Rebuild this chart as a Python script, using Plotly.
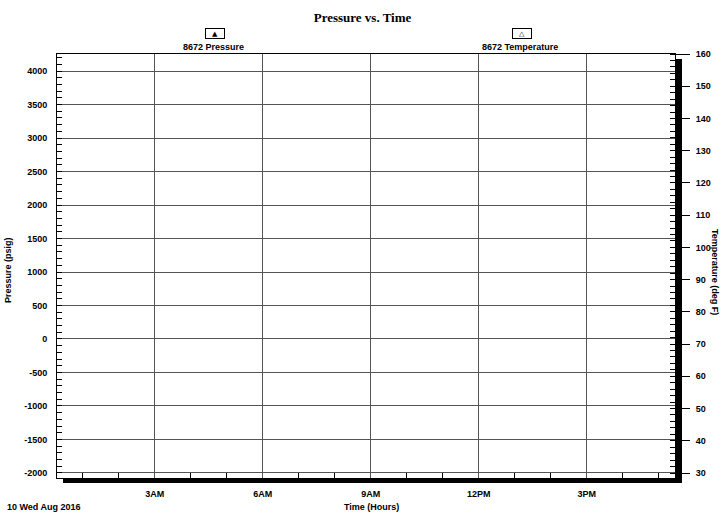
import plotly.graph_objects as go

# ---- data (the reference shows no plotted samples) ----
time_stamps = []          # sample times
pressure_psig = []        # 8672 Pressure
temperature_degF = []     # 8672 Temperature
series_names = ["8672 Pressure", "8672 Temperature"]
time_start = "2016-08-10 00:17"
time_end = "2016-08-10 17:27"
pressure_range = [-2075, 4254]
temperature_range = [28.45, 160]
pressure_ticks = [-2000, -1500, -1000, -500, 0, 500, 1000, 1500, 2000, 2500, 3000, 3500, 4000]
pressure_tick_labels = ["-2000", "-1500", "-1000", "-500", "0", "500", "1000", "1500",
                        "2000", "2500", "3000", "3500", "4000"]

FONT = "Liberation Sans Narrow, Liberation Sans, Arial"

fig = go.Figure()
fig.add_trace(go.Scatter(x=time_stamps, y=pressure_psig, name=series_names[0],
                         mode="lines+markers", line=dict(color="black"),
                         marker=dict(symbol="triangle-up", color="black"), yaxis="y"))
fig.add_trace(go.Scatter(x=time_stamps, y=temperature_degF, name=series_names[1],
                         mode="lines+markers", line=dict(color="black"),
                         marker=dict(symbol="triangle-up-open", color="black"), yaxis="y2"))

tickfont = dict(family=FONT, size=9, color="black", weight="bold")

fig.update_layout(
    width=725, height=514,
    margin=dict(l=57, r=50, t=54, b=36),
    paper_bgcolor="white", plot_bgcolor="white",
    showlegend=False,
    title=dict(text="Pressure vs. Time", x=0.5, xanchor="center", y=1 - 17 / 514, yanchor="middle",
               font=dict(family="Liberation Serif", size=13, color="black", weight="bold")),
    xaxis=dict(type="date", range=[time_start, time_end],
               tick0="2016-08-10 00:00", dtick=3 * 3600 * 1000, tickformat="%-I%p",
               ticks="", showgrid=True, gridcolor="#555555", gridwidth=1,
               showline=True, linecolor="black", linewidth=1, mirror=True,
               tickfont=tickfont, ticklabelstandoff=7,
               minor=dict(dtick=3600 * 1000, ticks="inside", ticklen=5, tickcolor="black",
                          showgrid=False),
               zeroline=False),
    yaxis=dict(range=pressure_range, tickmode="array", tickvals=pressure_ticks,
               ticktext=pressure_tick_labels, ticks="inside", ticklen=5,
               tickcolor="black", showgrid=True, gridcolor="#555555", gridwidth=1,
               showline=True, linecolor="black", linewidth=1, zeroline=False,
               tickfont=tickfont, ticklabelstandoff=7,
               minor=dict(dtick=100, ticks="inside", ticklen=5, tickcolor="black", showgrid=False)),
    yaxis2=dict(range=temperature_range, dtick=10, tick0=0, overlaying="y", side="right",
                ticks="outside", ticklen=14, tickcolor="black", showgrid=False,
                showline=True, linecolor="black", linewidth=1, zeroline=False,
                tickfont=tickfont, ticklabelstandoff=4,
                minor=dict(dtick=2, ticks="inside", ticklen=5, tickcolor="black", showgrid=False)),
)

# shadow frame (thick black edges at bottom and right)
W, H = 618.0, 424.0
fig.add_shape(type="rect", xref="paper", yref="paper",
              x0=(63 - 57) / W, x1=(682 - 57) / W, y0=-5 / H, y1=0,
              fillcolor="black", line=dict(width=0), layer="above")
fig.add_shape(type="rect", xref="paper", yref="paper",
              x0=1.0, x1=(682 - 57) / W, y0=-5 / H, y1=1 - 5 / H,
              fillcolor="black", line=dict(width=0), layer="above")

labfont = dict(family=FONT, size=9, color="black", weight="bold")
# legend-like keys
for xpix, sym, name in [(215, "▲", series_names[0]), (522, "△", series_names[1])]:
    fig.add_annotation(xref="paper", yref="paper", x=(xpix - 57) / W, y=(478 - 34) / H,
                       text=sym, showarrow=False, font=dict(family="DejaVu Sans", size=7, color="black"),
                       bordercolor="black", borderwidth=1, borderpad=0, width=18, height=9,
                       xanchor="center", yanchor="middle")
    fig.add_annotation(xref="paper", yref="paper", x=(xpix - 2 - 57) / W, y=(478 - 47) / H,
                       text=name, showarrow=False, font=labfont,
                       xanchor="center", yanchor="middle")

# axis titles
fig.add_annotation(xref="paper", yref="paper", x=(8 - 57) / W, y=(478 - 270) / H,
                   text="Pressure (psig)", textangle=-90, showarrow=False, font=labfont,
                   xanchor="center", yanchor="middle")
fig.add_annotation(xref="paper", yref="paper", x=(715 - 57) / W, y=(478 - 272) / H,
                   text="Temperature (deg F)", textangle=90, showarrow=False, font=labfont,
                   xanchor="center", yanchor="middle")
fig.add_annotation(xref="paper", yref="paper", x=(371 - 57) / W, y=(478 - 507) / H,
                   text="Time (Hours)", showarrow=False, font=labfont,
                   xanchor="center", yanchor="middle")
fig.add_annotation(xref="paper", yref="paper", x=(44 - 57) / W, y=(478 - 507) / H,
                   text="10 Wed Aug 2016", showarrow=False, font=labfont,
                   xanchor="center", yanchor="middle")

fig.write_html("out.html", config={"displayModeBar": False},
               post_script="document.body.style.margin='0';")
